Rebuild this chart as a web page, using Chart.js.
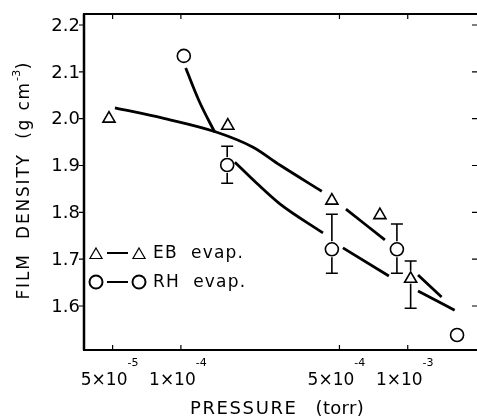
<!DOCTYPE html>
<html>
<head>
<meta charset="utf-8">
<script src="https://cdn.jsdelivr.net/npm/chart.js@4.4.0/dist/chart.umd.min.js"></script>
<style>
html, body { margin: 0; padding: 0; background: #fff; }
</style>
</head>
<body>
<canvas id="chart" width="477" height="419"></canvas>
<script>
// measured points (pressure in torr, density in g cm-3)
let ebPressure = [4.82e-5, 1.61e-4, 4.63e-4, 7.54e-4, 1.03e-3];
let ebDensity = [2.00, 1.985, 1.825, 1.794, 1.658];
let ebErrHi = [null, null, null, null, 1.696];
let ebErrLo = [null, null, null, null, 1.595];

let rhPressure = [1.03e-4, 1.60e-4, 4.63e-4, 8.96e-4, 1.65e-3];
let rhDensity = [2.134, 1.901, 1.721, 1.721, 1.538];
let rhErrHi = [null, 1.941, 1.796, 1.775, null];
let rhErrLo = [null, 1.862, 1.670, 1.670, null];

// hand drawn curves, null = gap at a marker
let ebCurveP = [5.12e-5, 8.33e-5, 1.44e-4, 2.08e-4, 2.73e-4, 4.18e-4, 4.63e-4, 5.34e-4, 7.93e-4, 9.23e-4, 1.11e-3, 1.41e-3];
let ebCurveD = [2.023, 2.001, 1.971, 1.939, 1.901, 1.845, null, 1.807, 1.741, null, 1.666, 1.619];

let rhCurveP = [1.05e-4, 1.21e-4, 1.41e-4, 1.60e-4, 1.73e-4, 2.16e-4, 2.73e-4, 4.23e-4, 4.63e-4, 5.18e-4, 8.26e-4, 9.71e-4, 1.11e-3, 1.61e-3];
let rhCurveD = [2.108, 2.035, 1.971, null, 1.907, 1.862, 1.818, 1.756, null, 1.724, 1.664, null, 1.632, 1.591];

let xTicks = [5e-5, 1e-4, 5e-4, 1e-3];
let xMant = ['5×10', '1×10', '5×10', '1×10'];
let xExp = ['-5', '-4', '-4', '-3'];
let yTicks = [1.6, 1.7, 1.8, 1.9, 2.0, 2.1, 2.2];

let legendItems = [
    { style: 'triangle', text: 'EB  evap.' },
    { style: 'circle', text: 'RH  evap.' }
];

const FONT = '"DejaVu Sans", sans-serif';

function pairs(px, py) {
    return px.map((p, i) => ({ x: p, y: py[i] }));
}

function drawParts(ctx, parts, cx, cy) {
    // parts drawn left to right, centred on cx
    let total = 0;
    parts.forEach(p => {
        ctx.font = p.size + 'px ' + FONT;
        ctx.letterSpacing = (p.sp || 0) + 'px';
        p.w = ctx.measureText(p.t).width;
        total += p.w;
    });
    let x = cx - total / 2;
    parts.forEach(p => {
        ctx.font = p.size + 'px ' + FONT;
        ctx.letterSpacing = (p.sp || 0) + 'px';
        ctx.fillText(p.t, x, cy + (p.dy || 0));
        x += p.w;
    });
    ctx.letterSpacing = '0px';
}

const errorBars = {
    id: 'errorBars',
    afterDatasetsDraw(chart) {
        const { ctx, scales: { x, y } } = chart;
        ctx.save();
        ctx.strokeStyle = '#000';
        ctx.lineWidth = 1.6;
        const sets = [
            [ebPressure, ebDensity, ebErrHi, ebErrLo, 8, 5],
            [rhPressure, rhDensity, rhErrHi, rhErrLo, 8, 8]
        ];
        sets.forEach(s => {
            for (let i = 0; i < s[0].length; i++) {
                let px = x.getPixelForValue(s[0][i]);
                let py = y.getPixelForValue(s[1][i]);
                if (s[2][i] != null) {
                    let t = y.getPixelForValue(s[2][i]);
                    ctx.beginPath();
                    ctx.moveTo(px, py - s[4]); ctx.lineTo(px, t);
                    ctx.moveTo(px - 6, t); ctx.lineTo(px + 6, t);
                    ctx.stroke();
                }
                if (s[3][i] != null) {
                    let b = y.getPixelForValue(s[3][i]);
                    ctx.beginPath();
                    ctx.moveTo(px, py + s[5]); ctx.lineTo(px, b);
                    ctx.moveTo(px - 6, b); ctx.lineTo(px + 6, b);
                    ctx.stroke();
                }
            }
        });
        ctx.restore();
    }
};

const frame = {
    id: 'frame',
    afterDraw(chart) {
        const { ctx, chartArea: a, scales: { x, y } } = chart;
        ctx.save();
        ctx.strokeStyle = '#000';
        ctx.fillStyle = '#000';

        // box
        ctx.lineWidth = 2.5;
        ctx.beginPath();
        ctx.moveTo(a.left, a.top); ctx.lineTo(a.left, a.bottom);
        ctx.stroke();
        ctx.lineWidth = 2;
        ctx.beginPath();
        ctx.moveTo(a.left - 1, a.bottom); ctx.lineTo(a.right, a.bottom);
        ctx.moveTo(a.left - 1, a.top); ctx.lineTo(a.right, a.top);
        ctx.stroke();

        // ticks
        ctx.lineWidth = 1.2;
        ctx.beginPath();
        xTicks.forEach(v => {
            let px = x.getPixelForValue(v);
            ctx.moveTo(px, a.bottom); ctx.lineTo(px, a.bottom - 5);
            ctx.moveTo(px, a.top); ctx.lineTo(px, a.top + 5);
        });
        yTicks.forEach(v => {
            let py = y.getPixelForValue(v);
            ctx.moveTo(a.left - 5, py); ctx.lineTo(a.left, py);
            ctx.moveTo(a.right, py); ctx.lineTo(a.right - 5, py);
        });
        ctx.stroke();

        // y tick labels
        ctx.font = '18px ' + FONT;
        ctx.textAlign = 'right';
        ctx.textBaseline = 'middle';
        yTicks.forEach(v => {
            ctx.fillText(v.toFixed(1), a.left - 4, y.getPixelForValue(v) + 1);
        });

        // x tick labels
        ctx.textAlign = 'left';
        ctx.textBaseline = 'alphabetic';
        xTicks.forEach((v, i) => {
            let px = x.getPixelForValue(v) - 3;
            drawParts(ctx, [
                { t: xMant[i], size: 17 },
                { t: xExp[i], size: 11, dy: -19 }
            ], px, 385);
        });

        // axis titles
        drawParts(ctx, [{ t: 'PRESSURE', size: 18, sp: 1.6 }, { t: '   (torr)', size: 18, sp: 0.3 }], 277, 414);

        ctx.save();
        ctx.translate(29, 181);
        ctx.rotate(-Math.PI / 2);
        drawParts(ctx, [
            { t: 'FILM  DENSITY  (g cm', size: 17, sp: 1.8 },
            { t: '-3', size: 11, dy: -9, sp: 0.5 },
            { t: ')', size: 17 }
        ], 0, 0);
        ctx.restore();

        // legend
        let rows = [253, 282];
        legendItems.forEach((it, i) => {
            let ly = rows[i];
            let opts = { pointStyle: it.style, radius: it.style == 'triangle' ? 7 : 6.5, borderWidth: 1.6 };
            ctx.fillStyle = '#fff';
            Chart.helpers.drawPoint(ctx, opts, 96, ly + (it.style == 'triangle' ? 2 : 0));
            Chart.helpers.drawPoint(ctx, opts, 139, ly + (it.style == 'triangle' ? 2 : 0));
            ctx.lineWidth = 2;
            ctx.beginPath();
            ctx.moveTo(107, ly); ctx.lineTo(128, ly);
            ctx.stroke();
            ctx.fillStyle = '#000';
            ctx.textAlign = 'left';
            ctx.textBaseline = 'middle';
            ctx.font = '17px ' + FONT;
            ctx.letterSpacing = '1.2px';
            ctx.fillText(it.text, 153, ly + 1);
            ctx.letterSpacing = '0px';
        });

        ctx.restore();
    }
};

const config = {
    type: 'scatter',
    data: {
        datasets: [
            {
                label: 'EB curve',
                type: 'line',
                data: pairs(ebCurveP, ebCurveD),
                borderColor: '#000',
                borderWidth: 2.8,
                pointRadius: 0,
                cubicInterpolationMode: 'monotone',
                spanGaps: false,
                fill: false
            },
            {
                label: 'RH curve',
                type: 'line',
                data: pairs(rhCurveP, rhCurveD),
                borderColor: '#000',
                borderWidth: 2.8,
                pointRadius: 0,
                cubicInterpolationMode: 'monotone',
                spanGaps: false,
                fill: false
            },
            {
                label: 'EB evap.',
                data: pairs(ebPressure, ebDensity),
                pointStyle: 'triangle',
                pointRadius: 7,
                borderColor: '#000',
                backgroundColor: '#fff',
                borderWidth: 1.6
            },
            {
                label: 'RH evap.',
                data: pairs(rhPressure, rhDensity),
                pointStyle: 'circle',
                pointRadius: 6.5,
                borderColor: '#000',
                backgroundColor: '#fff',
                borderWidth: 1.6
            }
        ]
    },
    options: {
        responsive: false,
        animation: false,
        layout: { autoPadding: false, padding: { top: 14, right: 0, left: 0, bottom: 0 } },
        plugins: {
            legend: { display: false },
            tooltip: { enabled: false }
        },
        scales: {
            x: {
                type: 'logarithmic',
                min: 3.74e-5,
                max: 2.02e-3,
                grid: { display: false },
                border: { display: false },
                ticks: { display: false },
                afterBuildTicks: (s) => { s.ticks = xTicks.map(v => ({ value: v })); },
                afterFit: (s) => { s.height = 69; }
            },
            y: {
                type: 'linear',
                min: 1.506,
                max: 2.2235,
                grid: { display: false },
                border: { display: false },
                ticks: { display: false },
                afterBuildTicks: (s) => { s.ticks = yTicks.map(v => ({ value: v })); },
                afterFit: (s) => { s.width = 84; }
            }
        }
    },
    plugins: [errorBars, frame]
};

let chart = new Chart(document.getElementById('chart'), config);
</script>
</body>
</html>
